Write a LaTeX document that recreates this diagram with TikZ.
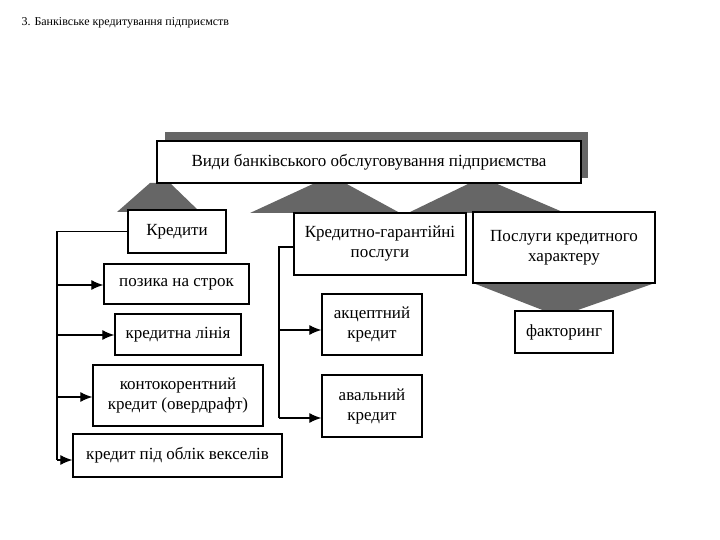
\documentclass[tikz,border=0pt]{standalone}
\usepackage{fontspec}
\setmainfont{Liberation Serif}
\usetikzlibrary{arrows.meta}
\begin{document}
\begin{tikzpicture}[x=1pt,y=-1pt,
 box/.style={draw=black,line width=1.3pt,fill=white,inner sep=0pt,align=center,font=\fontsize{17}{20}\selectfont},
 conn/.style={line width=1.2pt},
 arr/.style={line width=1.2pt,-{Latex[length=12pt,width=10pt]}},
 sh/.style={fill=gray!80!black}]
\useasboundingbox (0,0) rectangle (720,540);
\node[anchor=west,font=\fontsize{12}{14}\selectfont] (hdr) at (18,23) {3. Банківське кредитування підприємств};
\fill[sh] (165,132) rectangle (588,178);
% trapezoids
\fill[sh] (150,183) -- (170,183) -- (200,212) -- (117,212) -- cycle;
\fill[sh] (315,183) -- (345,183) -- (400,213) -- (250,213) -- cycle;
\fill[sh] (470,183) -- (495,183) -- (565,213) -- (408,213) -- cycle;
\fill[sh] (473,283) -- (655,283) -- (575,311) -- (545,311) -- cycle;
\node[box,minimum width=424,minimum height=42] (top) at (369,162) {Види банківського обслуговування підприємства};
\node[box,minimum width=98,minimum height=43] (kr) at (177,231.5) {Кредити};
\node[box,minimum width=172,minimum height=62] (kg) at (380,244) {Кредитно-гарантійні\\послуги};
\node[box,minimum width=182,minimum height=71] (pk) at (564,247.5) {Послуги кредитного\\характеру};
\node[box,minimum width=98,minimum height=42] (f) at (564,332) {факторинг};
\node[box,minimum width=145,minimum height=40] (p1) at (176.5,284) {позика на строк};
\node[box,minimum width=126,minimum height=41] (p2) at (178,334.5) {кредитна лінія};
\node[box,minimum width=170,minimum height=61] (p3) at (178,395.5) {контокорентний\\кредит (овердрафт)};
\node[box,minimum width=209,minimum height=43] (p4) at (177.5,455.5) {кредит під облік векселів};
\node[box,minimum width=100,minimum height=61] (a1) at (372,324.5) {акцептний\\кредит};
\node[box,minimum width=100,minimum height=62] (a2) at (372,406) {авальний\\кредит};
\coordinate (l0) at (57,231.5);
\coordinate (l4) at (57,460);
\draw[conn] (kr.west) -- (l0) -- (l4);
\draw[arr] (57,285) -- (p1.west |- 0,285);
\draw[arr] (57,335) -- (p2.west |- 0,335);
\draw[arr] (57,397) -- (p3.west |- 0,397);
\draw[arr] (l4) -- (p4.west |- l4);
\coordinate (m0) at (279,247);
\draw[conn] (kg.west |- m0) -- (m0) -- (279,418);
\draw[arr] (279,330) -- (a1.west |- 0,330);
\draw[arr] (279,418) -- (a2.west |- 0,418);
\end{tikzpicture}
\end{document}
